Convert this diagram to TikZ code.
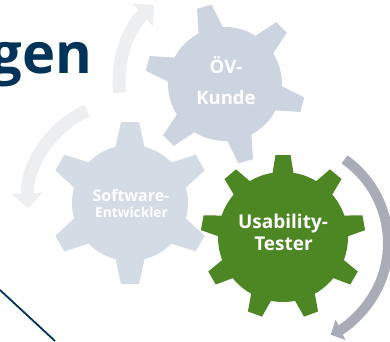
\documentclass[tikz,border=0pt]{standalone}
\usepackage{fontspec}
\setmainfont{Open Sans}
\usetikzlibrary{arrows.meta}
\definecolor{navy}{HTML}{00335A}
\definecolor{gearblue}{HTML}{CCD5DF}
\definecolor{gearpale}{HTML}{D3DBE4}
\definecolor{geargreen}{HTML}{4D8723}
\definecolor{arcpale}{HTML}{EDEEF0}
\definecolor{arcgray}{HTML}{A9ABB6}
% centre, body radius, tip radius, teeth, offset, base half width, tip half width, colour
\newcommand{\drawgear}[8]{%
  \fill[#8] #1 circle (#2);
  \foreach \i in {1,...,#4}
    \fill[#8, shift={#1}, rotate=#5+\i*360/#4] (#2-4,-#6) -- (#3,-#7) -- (#3,#7) -- (#2-4,#6) -- cycle;
}
\begin{document}
\begin{tikzpicture}[x=1pt, y=1pt,
  gearlabel/.style={text=white, inner sep=0pt, anchor=base},
  palearc/.style={arcpale, line width=13pt, -{Triangle[width=30pt,length=15pt]}},
  grayarc/.style={arcgray, line width=10pt, -{Triangle[width=22pt,length=11pt]}}]
\useasboundingbox (0,0) rectangle (390,341);
\clip (0,0) rectangle (390,341);
% Heading, cut at the left edge
\node[navy, inner sep=0pt, anchor=base east, font=\fontsize{56}{56}\selectfont\bfseries] (heading) at (92.5,268) {gen};
% Corner line
\draw[navy, line width=1.8pt] (0,51) -- (55,0);
% Cycle arrows
\draw[palearc] ([shift={(186:102)}]221,259) arc[start angle=186, end angle=131, radius=102];
\draw[palearc] ([shift={(115:102)}]130,138) arc[start angle=115, end angle=183, radius=102];
\draw[grayarc] ([shift={(55:102)}]286,98) arc[start angle=55, end angle=-64, radius=102];
% Gears
\drawgear{(225,257)}{57}{80}{6}{45}{13}{7.5}{gearblue}
\drawgear{(130,138)}{58}{81}{6}{30}{15}{9}{gearpale}
\drawgear{(283,104)}{65}{82}{9}{50}{11}{7.5}{geargreen}
% Gear labels
\node[gearlabel, font=\fontsize{18.5}{18.5}\selectfont\bfseries] (kunde1) at (226,268) {ÖV-};
\node[gearlabel, font=\fontsize{18.5}{18.5}\selectfont\bfseries] (kunde2) at (226,237) {Kunde};
\node[gearlabel, font=\fontsize{16}{16}\selectfont\bfseries] (dev1) at (131,140) {Software-};
\node[gearlabel, font=\fontsize{13.7}{13.7}\selectfont\bfseries] (dev2) at (131.5,124) {Entwickler};
\node[gearlabel, font=\fontsize{19}{19}\selectfont\bfseries] (tester1) at (283,113) {Usability-};
\node[gearlabel, font=\fontsize{19}{19}\selectfont\bfseries] (tester2) at (283.5,91) {Tester};
\end{tikzpicture}
\end{document}
